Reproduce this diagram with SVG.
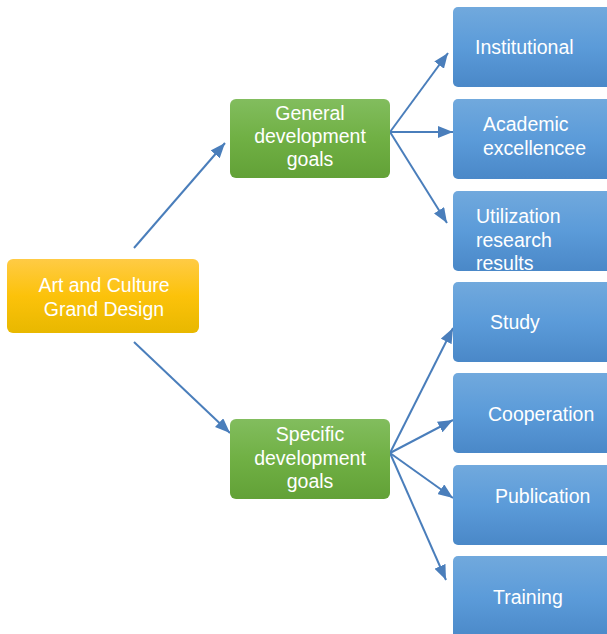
<svg xmlns="http://www.w3.org/2000/svg" width="607" height="634" viewBox="0 0 607 634">
<style>
.t{font-family:"Liberation Sans",Arial,sans-serif;font-size:19.5px;fill:#ffffff}
.c{text-anchor:middle}
.conn{stroke:#4A7EBB;stroke-width:2;fill:none;marker-end:url(#ah)}
</style>
<defs>
<linearGradient id="gy" x1="0" y1="0" x2="0" y2="1"><stop offset="0" stop-color="#FFCB45"/><stop offset="0.5" stop-color="#FCC20A"/><stop offset="1" stop-color="#E8B800"/></linearGradient>
<linearGradient id="gg" x1="0" y1="0" x2="0" y2="1"><stop offset="0" stop-color="#82BD5E"/><stop offset="0.5" stop-color="#70B044"/><stop offset="1" stop-color="#62A137"/></linearGradient>
<linearGradient id="gb" x1="0" y1="0" x2="0" y2="1"><stop offset="0" stop-color="#71A9DD"/><stop offset="0.5" stop-color="#5B9BD9"/><stop offset="1" stop-color="#4A88C8"/></linearGradient>
<marker id="ah" markerUnits="userSpaceOnUse" markerWidth="16" markerHeight="12" refX="15" refY="6" orient="auto"><path d="M0,0 L15,6 L0,12 z" fill="#4A7EBB"/></marker>
<clipPath id="cu"><rect x="453" y="191" width="160" height="80" rx="5"/></clipPath>
</defs>
<g id="connectors">
<line class="conn" x1="134" y1="248" x2="225" y2="143"/>
<line class="conn" x1="134" y1="342" x2="230" y2="433"/>
<line class="conn" x1="390" y1="132" x2="448" y2="53"/>
<line class="conn" x1="390" y1="132" x2="453" y2="132"/>
<line class="conn" x1="390" y1="132" x2="447" y2="223"/>
<line class="conn" x1="390" y1="453" x2="453" y2="328"/>
<line class="conn" x1="390" y1="453" x2="453" y2="420"/>
<line class="conn" x1="390" y1="453" x2="453" y2="498"/>
<line class="conn" x1="390" y1="453" x2="446" y2="580"/>
</g>
<g id="art-culture">
<rect x="7" y="259" width="192" height="74" rx="6" fill="url(#gy)"/>
<text class="t c" x="104" y="292">Art and Culture</text>
<text class="t c" x="104" y="316">Grand Design</text>
</g>
<g id="general">
<rect x="230" y="99" width="160" height="79" rx="6" fill="url(#gg)"/>
<text class="t c" x="310" y="120">General</text>
<text class="t c" x="310" y="143">development</text>
<text class="t c" x="310" y="166">goals</text>
</g>
<g id="specific">
<rect x="230" y="419" width="160" height="80" rx="6" fill="url(#gg)"/>
<text class="t c" x="310" y="441">Specific</text>
<text class="t c" x="310" y="465">development</text>
<text class="t c" x="310" y="488">goals</text>
</g>
<g id="institutional">
<rect x="453" y="7" width="160" height="80" rx="5" fill="url(#gb)"/>
<text class="t" x="475" y="54">Institutional</text>
</g>
<g id="academic">
<rect x="453" y="99" width="160" height="80" rx="5" fill="url(#gb)"/>
<text class="t" x="483" y="131">Academic</text>
<text class="t" x="483" y="155">excellencee</text>
</g>
<g id="utilization">
<rect x="453" y="191" width="160" height="80" rx="5" fill="url(#gb)"/>
<g clip-path="url(#cu)">
<text class="t" x="476" y="223">Utilization</text>
<text class="t" x="476" y="247">research</text>
<text class="t" x="476" y="270">results</text>
</g>
</g>
<g id="study">
<rect x="453" y="282" width="160" height="80" rx="5" fill="url(#gb)"/>
<text class="t" x="490" y="329">Study</text>
</g>
<g id="cooperation">
<rect x="453" y="373" width="160" height="80" rx="5" fill="url(#gb)"/>
<text class="t" x="488" y="421">Cooperation</text>
</g>
<g id="publication">
<rect x="453" y="465" width="160" height="80" rx="5" fill="url(#gb)"/>
<text class="t" x="495" y="503">Publication</text>
</g>
<g id="training">
<rect x="453" y="556" width="160" height="84" rx="5" fill="url(#gb)"/>
<text class="t" x="493" y="604">Training</text>
</g>
</svg>
